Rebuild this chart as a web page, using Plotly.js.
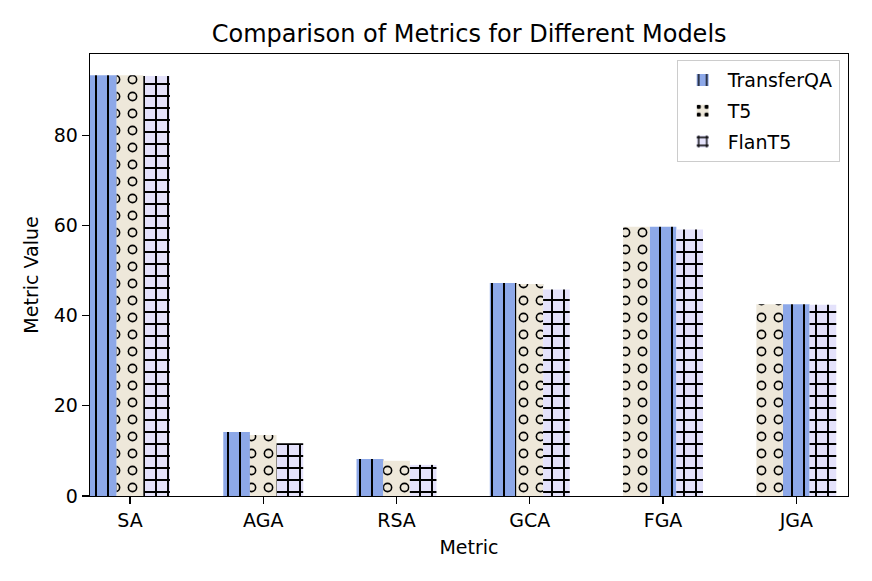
<!DOCTYPE html>
<html>
<head>
<meta charset="utf-8">
<script src="https://cdn.plot.ly/plotly-3.0.1.min.js"></script>
<style>
  html, body { margin: 0; padding: 0; background: #fff; }
  #chart { width: 872px; height: 581px; }
</style>
</head>
<body>
<div id="chart"></div>
<script>
// values
const metrics = ["SA", "AGA", "RSA", "GCA", "FGA", "JGA"];
const transferqa = [93.3, 14.2, 8.2, 47.2, 59.7, 42.5];
const t5 = [93.3, 13.5, 7.8, 47.0, 59.7, 42.5];
const flant5 = [93.1, 11.7, 6.9, 45.8, 59.1, 42.4];

// which of the three slots each model takes inside a group
const transferqaSlot = [0, 0, 0, 0, 1, 1];
const t5Slot = [1, 1, 1, 1, 0, 0];
const flant5Slot = [2, 2, 2, 2, 2, 2];

const barWidth = 0.2;
const xPos = metrics.map((m, i) => i);
const slotOffset = (slots) => slots.map((s) => -1.5 * barWidth + s * barWidth);

const colors = {
  transferqa: "#8DA8E8",
  t5: "#EEE8DA",
  flant5: "#E4E2FB",
};

const baseBar = (name, y, slots, color, pattern, showlegend) => ({
  type: "bar",
  name: name,
  legendgroup: name,
  x: xPos,
  y: y,
  width: barWidth,
  offset: slotOffset(slots),
  showlegend: showlegend,
  hoverinfo: "none",
  marker: {
    color: color,
    line: { width: 0 },
    pattern: pattern,
  },
});

const traceTQA = baseBar("TransferQA", transferqa, transferqaSlot, colors.transferqa,
  { shape: "|", fgcolor: "black", fgopacity: 1, bgcolor: colors.transferqa, size: 12, solidity: 0.17, fillmode: "overlay" }, true);

const traceT5 = baseBar("T5", t5, t5Slot, colors.t5,
  { shape: ".", fgcolor: "black", fgopacity: 1, bgcolor: colors.t5, size: 17, solidity: 0.26, fillmode: "overlay" }, true);

// punches the middle out of the dots so they read as rings
const traceT5Holes = baseBar("T5", t5, t5Slot, "rgba(0,0,0,0)",
  { shape: ".", fgcolor: colors.t5, fgopacity: 1, bgcolor: "rgba(0,0,0,0)", size: 17, solidity: 0.12, fillmode: "replace" }, false);

const traceFlan = baseBar("FlanT5", flant5, flant5Slot, colors.flant5,
  { shape: "+", fgcolor: "black", fgopacity: 1, bgcolor: colors.flant5, size: 12, solidity: 0.3, fillmode: "overlay" }, true);

const data = [traceTQA, traceT5, traceT5Holes, traceFlan];

const font = { family: "DejaVu Sans, sans-serif", size: 19, color: "black" };

const layout = {
  width: 872,
  height: 581,
  margin: { l: 90, r: 24, t: 54, b: 85 },
  paper_bgcolor: "white",
  plot_bgcolor: "white",
  font: font,
  barmode: "overlay",
  title: {
    text: "Comparison of Metrics for Different Models",
    font: { family: font.family, size: 24, color: "black" },
    x: 0.538,
    xanchor: "center",
    y: 0.943,
    yanchor: "middle",
  },
  xaxis: {
    range: [-0.3, 5.388],
    tickvals: xPos,
    ticktext: metrics,
    ticks: "outside",
    ticklen: 7,
    tickwidth: 1.3,
    tickcolor: "black",
    showgrid: false,
    zeroline: false,
    showline: true,
    linecolor: "black",
    linewidth: 1.3,
    mirror: true,
    tickfont: font,
    title: { text: "Metric", font: font, standoff: 10 },
  },
  yaxis: {
    range: [0, 98],
    tickvals: [0, 20, 40, 60, 80],
    ticks: "outside",
    ticklen: 7,
    tickwidth: 1.3,
    tickcolor: "black",
    showgrid: false,
    zeroline: false,
    showline: true,
    linecolor: "black",
    linewidth: 1.3,
    mirror: true,
    tickfont: font,
    title: { text: "Metric Value", font: font, standoff: 10 },
  },
  legend: {
    x: 0.989,
    xanchor: "right",
    y: 0.986,
    yanchor: "top",
    bgcolor: "white",
    bordercolor: "#cccccc",
    borderwidth: 1,
    font: font,
    traceorder: "grouped",
    tracegroupgap: 3,
    itemwidth: 40,
  },
  showlegend: true,
};

Plotly.newPlot("chart", data, layout, { staticPlot: true, responsive: false });
</script>
</body>
</html>
